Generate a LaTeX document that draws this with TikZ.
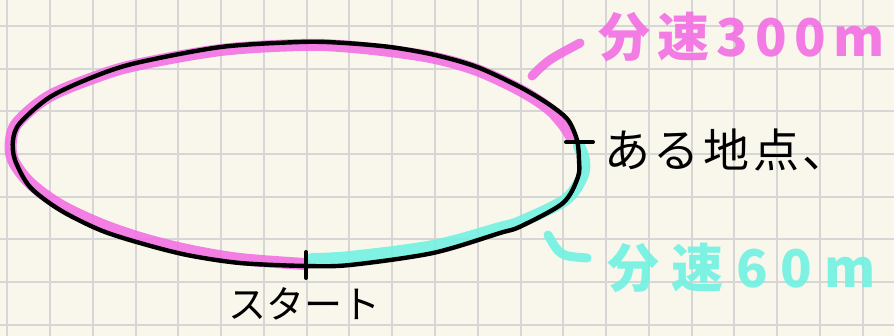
\documentclass[tikz,border=0pt]{standalone}
\usepackage{fontspec}
\usepackage{tikz}
\usetikzlibrary{positioning,calc}
\newfontfamily\jpfont{Noto Sans CJK JP}
\definecolor{paper}{RGB}{249,247,236}
\definecolor{gridgray}{RGB}{214,214,214}
\definecolor{hlpink}{RGB}{243,110,228}
\definecolor{hlcyan}{RGB}{112,242,226}

\begin{document}
\begin{tikzpicture}[
  x=1pt, y=-1pt,
  font=\jpfont,
  gridline/.style={draw=gridgray, line width=2pt},
  loop/.style={draw=black, line width=4.4pt},
  hl/.style={line width=12pt, opacity=0.88, line cap=round, line join=round},
  penmark/.style={line width=9pt, opacity=0.9, line cap=round},
  tick/.style={draw=black, line width=4pt, line cap=round},
  lab/.style={inner sep=0pt, anchor=west}
]
  \useasboundingbox (0,0) rectangle (894,336);
  \fill[paper] (0,0) rectangle (894,336);
  % square paper
  \foreach \i in {0,...,20}
    \draw[gridline] ({7.3+42.77*\i},0) -- ({7.3+42.77*\i},336);
  \foreach \j in {-1,...,7}
    \draw[gridline] (0,{26+42.7*\j}) -- (894,{26+42.7*\j});

  \coordinate (start) at (306,265);
  \coordinate (spot) at (578,142);

  % highlighted halves of the course
  \draw[hl, hlpink] plot[smooth, tension=0.55] coordinates {
    (305,264) (240,259) (187,250) (140,238) (100,224) (60,205) (30,183)
    (13,160) (11,140) (18,122) (48,97) (93,78) (136,65) (221,50) (300,45)
    (340,46) (390,51) (435,58) (477,70) (520,90) (548,108) (563,124) (572,138)};
  \draw[hl, hlcyan] plot[smooth, tension=0.55] coordinates {
    (579,146) (584,160) (582,177) (565,200) (520,222) (500,228) (433,246)
    (350,257) (312,259)};

  % the course
  \draw[loop] plot[smooth cycle, tension=0.5] coordinates {
    (306,266) (240,263) (187,255) (140,243) (100,230) (60,210) (30,187)
    (15,160) (13,140) (20,123) (50,97) (93,77) (136,63) (221,47) (300,42)
    (340,42.7) (390,47) (435,55) (477,67) (520,87) (550,105) (568,120)
    (577,140) (579,160) (578,177) (563,203) (520,226.7) (500,233) (433,253)
    (350,265)};

  \draw[tick] ($(start)+(0,-13)$) -- ($(start)+(0,13)$);
  \draw[tick] ($(spot)+(-12,0)$) -- ($(spot)+(15,0)$);

  \node[lab, right=26pt of spot, yshift=-8pt] (spotlab)
    {\fontsize{46}{46}\selectfont\addfontfeatures{LetterSpace=8}ある地点、};
  \node[inner sep=0pt, below=22pt of start, xshift=-2pt] (startlab)
    {\fontsize{38}{38}\selectfont スタート};

  % speeds
  \coordinate (fastA) at (532,76);
  \coordinate (fastB) at (580,43);
  \draw[penmark, hlpink] (fastA) .. controls (548,60) .. (fastB);
  \node[lab, text=hlpink, opacity=0.9] (fastlab) at (598,37)
    {\fontsize{52}{52}\selectfont\bfseries\addfontfeatures{LetterSpace=14}分速300m};

  \coordinate (slowA) at (548,235);
  \coordinate (slowB) at (587,258);
  \draw[penmark, hlcyan] (slowA) .. controls (560,256) .. (slowB);
  \node[lab, text=hlcyan, opacity=0.9] (slowlab) at (607,268)
    {\fontsize{52}{52}\selectfont\bfseries\addfontfeatures{LetterSpace=24}分速60m};
\end{tikzpicture}
\end{document}
